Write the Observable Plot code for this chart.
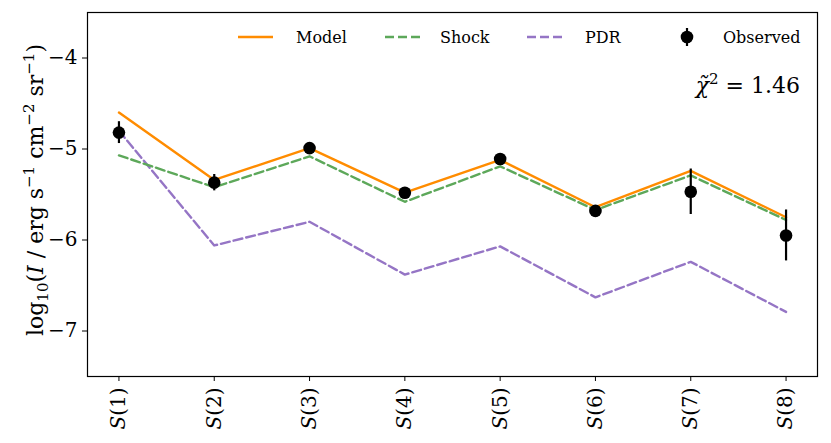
<!DOCTYPE html>
<html><head><meta charset="utf-8">
<script src="https://cdn.jsdelivr.net/npm/d3@7"></script>
<script src="https://cdn.jsdelivr.net/npm/@observablehq/plot@0.6"></script>
<style>
body{margin:0;background:#fff}
#chart svg{display:block}
#chart svg, #chart svg text, #chart svg tspan{font-family:"DejaVu Serif",serif !important}
</style>
</head><body><div id="chart"></div>
<script>
// ---- data ----
const lineNames = ["1","2","3","4","5","6","7","8"];
const model    = [-4.60, -5.34, -4.99, -5.48, -5.12, -5.64, -5.24, -5.75];
const shock    = [-5.07, -5.42, -5.08, -5.58, -5.19, -5.67, -5.29, -5.78];
const pdr      = [-4.80, -6.06, -5.80, -6.38, -6.07, -6.63, -6.24, -6.79];
const observed = [-4.82, -5.37, -4.99, -5.48, -5.11, -5.68, -5.47, -5.95];
const obsErr   = [0.12, 0.09, 0.03, 0.03, 0.03, 0.03, 0.25, 0.28];
const yTicks   = [-7, -6, -5, -4];
const chi2     = "1.46";
const seriesNames = ["Model", "Shock", "PDR", "Observed"];

const colors = {Model: "#ff8c00", Shock: "#5da85a", PDR: "#9575c5", Observed: "#000000"};
const idx = lineNames.map((_, i) => i);
const obsRows = observed.map((v, i) => ({i, v, lo: v - obsErr[i], hi: v + obsErr[i]}));

const plot = Plot.plot({
  width: 831, height: 443,
  marginLeft: 87, marginRight: 14, marginTop: 12, marginBottom: 67,
  style: {background: "white", color: "black"},
  x: {type: "linear", domain: [-0.33, 7.33]},
  y: {domain: [-7.5, -3.5]},
  marks: [
    Plot.axisY({ticks: yTicks, tickSize: 5, tickPadding: 5, fontSize: 20, label: null,
                tickFormat: d => "\u2212" + Math.abs(d)}),
    Plot.axisX({ticks: idx, tickSize: 5, tickPadding: 6, tickRotate: -90, fontSize: 20, label: null,
                tickFormat: i => "S(" + lineNames[i] + ")"}),
    Plot.lineY(pdr,   {stroke: colors.PDR,   strokeWidth: 2.4, strokeDasharray: "9,4"}),
    Plot.lineY(shock, {stroke: colors.Shock, strokeWidth: 2.4, strokeDasharray: "9,4"}),
    Plot.lineY(model, {stroke: colors.Model, strokeWidth: 2.4}),
    Plot.ruleX(obsRows, {x: "i", y1: "lo", y2: "hi", stroke: "black", strokeWidth: 2.2}),
    Plot.dot(obsRows, {x: "i", y: "v", r: 6.3, fill: "black", stroke: "none"}),
    Plot.frame({stroke: "black", strokeWidth: 1.2})
  ]
});
document.getElementById("chart").append(plot);

const svg = d3.select(plot);

// italic S in x tick labels
svg.selectAll('g[aria-label="x-axis tick label"] text').each(function() {
  const t = d3.select(this);
  const s = t.text();
  t.text(null);
  t.append("tspan").attr("font-style", "italic").text(s.slice(0, 1));
  t.append("tspan").text(s.slice(1));
});

// y axis label
const yl = svg.append("text")
  .attr("transform", "translate(43,190) rotate(-90)")
  .attr("text-anchor", "middle")
  .attr("font-size", 22)
  .attr("fill", "black");
yl.append("tspan").text("log");
yl.append("tspan").attr("font-size", 15).attr("dy", 5).text("10");
yl.append("tspan").attr("dy", -5).text("(");
yl.append("tspan").attr("font-style", "italic").text("I");
yl.append("tspan").text(" / erg s");
yl.append("tspan").attr("font-size", 15).attr("dy", -9).text("\u22121");
yl.append("tspan").attr("dy", 9).text(" cm");
yl.append("tspan").attr("font-size", 15).attr("dy", -9).text("\u22122");
yl.append("tspan").attr("dy", 9).text(" sr");
yl.append("tspan").attr("font-size", 15).attr("dy", -9).text("\u22121");
yl.append("tspan").attr("dy", 9).text(")");

// legend
const leg = svg.append("g").attr("font-size", 16).attr("fill", "black").attr("text-anchor", "start");
const legItems = [
  {name: seriesNames[0], x0: 238, tx: 296, dash: null},
  {name: seriesNames[1], x0: 385, tx: 440, dash: "9,4"},
  {name: seriesNames[2], x0: 527, tx: 585, dash: "9,4"},
  {name: seriesNames[3], x0: 670, tx: 723, dash: null}
];
const ly = 37;
legItems.forEach(it => {
  if (it.name === "Observed") {
    leg.append("line").attr("x1", 687).attr("x2", 687).attr("y1", ly - 9).attr("y2", ly + 9)
      .attr("stroke", "black").attr("stroke-width", 2.2);
    leg.append("circle").attr("cx", 687).attr("cy", ly).attr("r", 6.3).attr("fill", "black");
  } else {
    const l = leg.append("line").attr("x1", it.x0).attr("x2", it.x0 + 35).attr("y1", ly).attr("y2", ly)
      .attr("stroke", colors[it.name]).attr("stroke-width", 2.4);
    if (it.dash) l.attr("stroke-dasharray", it.dash);
  }
  leg.append("text").attr("x", it.tx).attr("y", ly + 6).attr("text-anchor", "start").text(it.name);
});

// reduced chi-square annotation
const ct = svg.append("text").attr("x", 800).attr("y", 93).attr("text-anchor", "end")
  .attr("font-size", 22).attr("fill", "black");
ct.append("tspan").attr("font-style", "italic").text("\u03C7\u0303");
ct.append("tspan").attr("font-size", 15).attr("dy", -9).text("2");
ct.append("tspan").attr("dy", 9).text(" = " + chi2);
</script>
</body></html>
